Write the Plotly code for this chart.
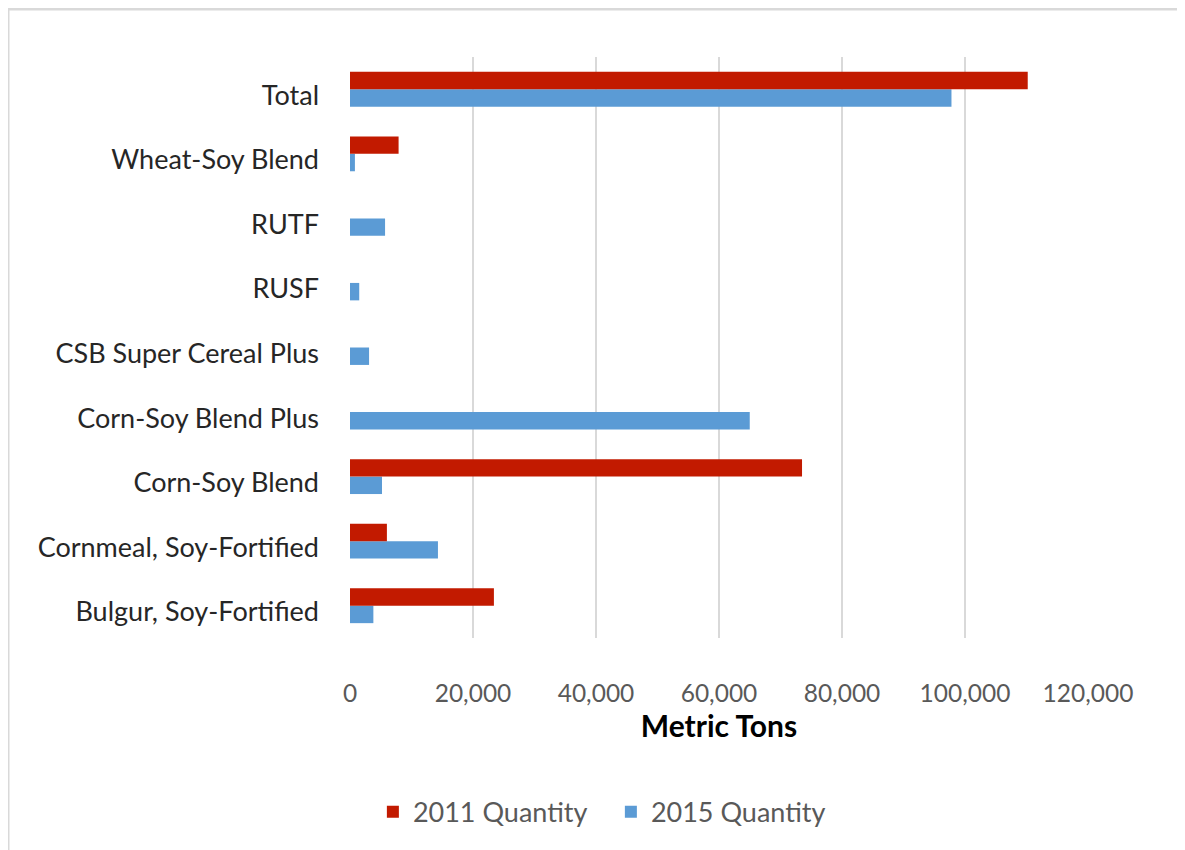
import plotly.graph_objects as go

categories = ["Bulgur, Soy-Fortified", "Cornmeal, Soy-Fortified", "Corn-Soy Blend",
              "Corn-Soy Blend Plus", "CSB Super Cereal Plus", "RUSF", "RUTF",
              "Wheat-Soy Blend", "Total"]
qty_2011 = [23400, 6000, 73500, 0, 0, 0, 0, 7900, 110200]
qty_2015 = [3800, 14300, 5200, 65000, 3100, 1500, 5700, 800, 97800]
tick_vals = [0, 20000, 40000, 60000, 80000, 100000, 120000]
tick_text = ["0", "20,000", "40,000", "60,000", "80,000", "100,000", "120,000"]

RED = "#C21A00"
BLUE = "#5B9BD5"
FONT = "Lato"

fig = go.Figure()
fig.add_trace(go.Bar(y=categories, x=qty_2015, orientation="h", name="2015 Quantity",
                     marker=dict(color=BLUE, line=dict(width=0)),
                     legendrank=2))
fig.add_trace(go.Bar(y=categories, x=qty_2011, orientation="h", name="2011 Quantity",
                     marker=dict(color=RED, line=dict(width=0)),
                     legendrank=1))

fig.update_layout(
    width=1185, height=850,
    margin=dict(l=342, r=105, t=49, b=220),
    paper_bgcolor="white", plot_bgcolor="white",
    barmode="group", bargap=0.46, bargroupgap=0,
    font=dict(family=FONT, size=25, color="#595959"),
    xaxis=dict(range=[0, 120000], tickvals=tick_vals, ticktext=tick_text,
               showgrid=True, gridcolor="#D9D9D9", gridwidth=2,
               zeroline=False, showline=False, ticks="",
               ticklabelstandoff=38,
               tickfont=dict(family=FONT, size=24.5, color="#595959"),
               title=dict(text="<b>Metric Tons</b>", standoff=8,
                          font=dict(family=FONT, size=30, color="#000000"))),
    yaxis=dict(showgrid=False, zeroline=False, showline=False, ticks="",
               ticklabelstandoff=30, ticklabelshift=6,
               tickfont=dict(family=FONT, size=27, color="#262626")),
    legend=dict(orientation="h", x=0.031, xanchor="left", y=-0.30, yanchor="middle",
                font=dict(family=FONT, size=27, color="#595959"),
                itemwidth=30, entrywidth=193, entrywidthmode="pixels",
                traceorder="normal"),
    showlegend=True,
)

fig.add_shape(type="rect", xref="paper", yref="paper",
              x0=-0.4634, x1=1.6, y0=-0.6, y1=1.0826,
              line=dict(color="#D9D9D9", width=3), fillcolor="rgba(0,0,0,0)", layer="below")

fig.write_html("out.html")
